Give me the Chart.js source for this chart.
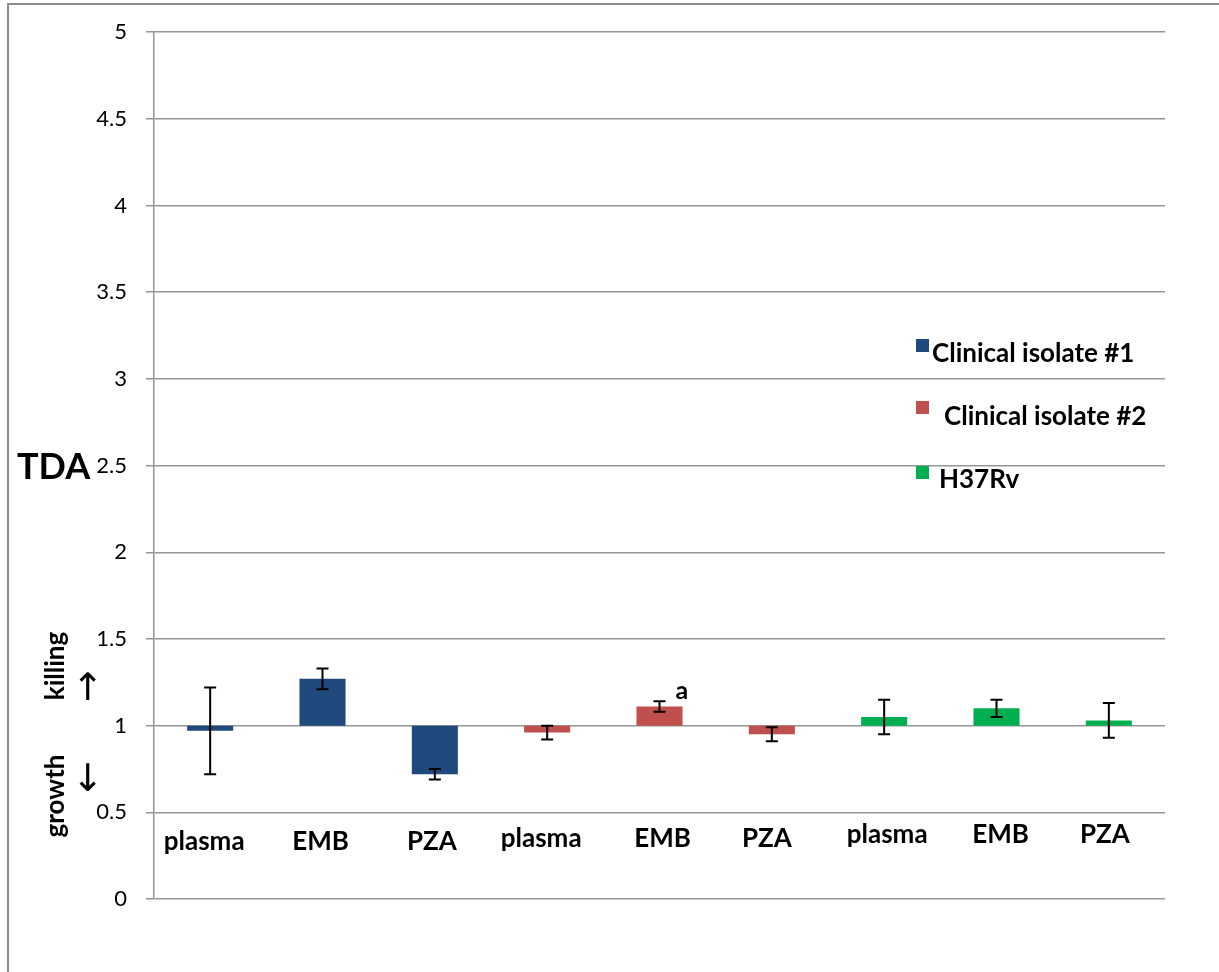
<!DOCTYPE html>
<html>
<head>
<meta charset="utf-8">
<title>TDA</title>
<script src="https://cdn.jsdelivr.net/npm/chart.js@4.4.1/dist/chart.umd.min.js"></script>
<style>
  html, body { margin: 0; padding: 0; background: #fff; }
  #wrap { width: 1219px; height: 972px; }
</style>
</head>
<body>
<div id="wrap"><canvas id="tdaChart" width="1219" height="972"></canvas></div>
<script>
// categories along the x axis
var categories = ["plasma", "EMB", "PZA", "plasma", "EMB", "PZA", "plasma", "EMB", "PZA"];

// TDA values (bars start at 1) and their error bars
var isolate1 = [0.97, 1.27, 0.72];
var isolate1Err = [0.25, 0.06, 0.03];
var isolate2 = [0.96, 1.11, 0.95];
var isolate2Err = [0.04, 0.03, 0.04];
var h37rv = [1.05, 1.10, 1.03];
var h37rvErr = [0.10, 0.05, 0.10];

var seriesNames = ["Clinical isolate #1", "Clinical isolate #2", "H37Rv"];
var yTickLabels = ["0", "0.5", "1", "1.5", "2", "2.5", "3", "3.5", "4", "4.5", "5"];
var baseline = 1;

var FONT = "Lato, 'Open Sans', sans-serif";
var GRID = "#959595";

// layout of the category labels (they sit inside the plot, each group a bit higher)
var catLabelY = [850, 850, 850, 847, 847, 847, 843, 843, 843];
var catLabelDx = [-6, -2, -3, -6, 3, -5, 3, 4, -4];

function buildBars(values, offset){
  var out = categories.map(function(){ return null; });
  values.forEach(function(v, i){ out[offset + i] = [baseline, v]; });
  return out;
}

function buildErrors(errs, offset){
  var out = categories.map(function(){ return null; });
  errs.forEach(function(e, i){ out[offset + i] = e; });
  return out;
}

// error bars, the "a" mark, side texts, legend and frame
var extras = {
  id: "extras",
  beforeDraw: function(chart){
    var ctx = chart.ctx;
    ctx.save();
    ctx.strokeStyle = "#8c8c8c";
    ctx.lineWidth = 2;
    ctx.beginPath();
    ctx.moveTo(1219, 4);
    ctx.lineTo(8, 4);
    ctx.lineTo(8, 972);
    ctx.stroke();
    ctx.restore();
  },
  afterDatasetsDraw: function(chart){
    var ctx = chart.ctx;
    var x = chart.scales.x;
    var y = chart.scales.y;
    ctx.save();
    ctx.strokeStyle = "#000";
    ctx.lineWidth = 2;
    chart.data.datasets.forEach(function(ds, di){
      var meta = chart.getDatasetMeta(di);
      meta.data.forEach(function(bar, i){
        var err = ds.errors[i];
        if (err == null) return;
        var v = ds.data[i][1];
        var yt = y.getPixelForValue(v + err);
        var yb = y.getPixelForValue(v - err);
        ctx.beginPath();
        ctx.moveTo(bar.x, yt); ctx.lineTo(bar.x, yb);
        ctx.moveTo(bar.x - 6, yt); ctx.lineTo(bar.x + 6, yt);
        ctx.moveTo(bar.x - 6, yb); ctx.lineTo(bar.x + 6, yb);
        ctx.stroke();
      });
    });

    // category labels
    ctx.fillStyle = "#000";
    ctx.font = "bold 26px " + FONT;
    ctx.textAlign = "center";
    ctx.textBaseline = "alphabetic";
    categories.forEach(function(c, i){
      ctx.fillText(c, x.getPixelForTick(i) + catLabelDx[i], catLabelY[i]);
    });

    // significance mark over EMB of isolate #2
    var bar = chart.getDatasetMeta(1).data[4];
    ctx.font = "bold 25px " + FONT;
    ctx.textAlign = "left";
    ctx.fillText("a", bar.x + 16, y.getPixelForValue(isolate2[1] + isolate2Err[1]) - 2);

    // axis title and direction hints
    ctx.font = "bold 36px " + FONT;
    ctx.fillText("TDA", 17, 479);

    ctx.font = "bold 26px " + FONT;
    ctx.textAlign = "center";
    ctx.save();
    ctx.translate(64, 666);
    ctx.rotate(-Math.PI / 2);
    ctx.fillText("killing", 0, 0);
    ctx.restore();
    ctx.save();
    ctx.translate(64, 796);
    ctx.rotate(-Math.PI / 2);
    ctx.fillText("growth", 0, 0);
    ctx.restore();

    ctx.font = "38px 'DejaVu Sans', sans-serif";
    ctx.textBaseline = "middle";
    ctx.fillText("\u2191", 88, 690);
    ctx.fillText("\u2193", 88, 781);

    // legend
    var boxY = [339, 401, 466];
    var textX = [932, 944, 939];
    var textY = [362, 425, 488];
    ctx.textAlign = "left";
    ctx.textBaseline = "alphabetic";
    ctx.font = "bold 26px " + FONT;
    chart.data.datasets.forEach(function(ds, di){
      ctx.fillStyle = ds.backgroundColor;
      ctx.fillRect(916, boxY[di], 13, 13);
      ctx.fillStyle = "#000";
      ctx.fillText(ds.label, textX[di], textY[di]);
    });
    ctx.restore();
  }
};

function drawChart(){
  var ctx = document.getElementById("tdaChart").getContext("2d");
  var chart = new Chart(ctx, {
    type: "bar",
    data: {
      labels: categories,
      datasets: [
        { label: seriesNames[0], data: buildBars(isolate1, 0), errors: buildErrors(isolate1Err, 0), backgroundColor: "#1F497D" },
        { label: seriesNames[1], data: buildBars(isolate2, 3), errors: buildErrors(isolate2Err, 3), backgroundColor: "#C0504D" },
        { label: seriesNames[2], data: buildBars(h37rv, 6), errors: buildErrors(h37rvErr, 6), backgroundColor: "#00B050" }
      ]
    },
    options: {
      responsive: false,
      animation: false,
      grouped: false,
      barPercentage: 0.41,
      categoryPercentage: 1.0,
      layout: { padding: { left: 0, right: 54, top: 29, bottom: 73 } },
      plugins: {
        legend: { display: false },
        tooltip: { enabled: false }
      },
      scales: {
        x: {
          grid: { display: false },
          border: { display: false },
          ticks: { display: false },
          afterFit: function(scale){ scale.height = 0; }
        },
        y: {
          min: 0,
          max: 5,
          grid: { color: GRID, lineWidth: 1.5, tickLength: 8 },
          border: { color: GRID, width: 1.5 },
          ticks: {
            stepSize: 0.5,
            color: "#000",
            padding: 19,
            font: { family: FONT, size: 22 },
            callback: function(value, index){ return yTickLabels[index]; }
          },
          afterFit: function(scale){ scale.width = 154; }
        }
      }
    },
    plugins: [extras]
  });
}

drawChart();
</script>
</body>
</html>
